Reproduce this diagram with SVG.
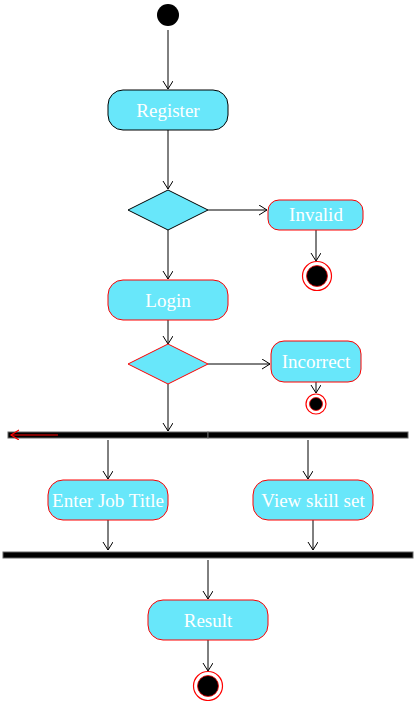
<svg xmlns="http://www.w3.org/2000/svg" width="416" height="701" viewBox="0 0 416 701">
<style>
.act{fill:#68e7fa;stroke:#ff0000;stroke-width:1}
.actb{fill:#68e7fa;stroke:#000;stroke-width:1}
.lbl{font-family:"Liberation Serif","Times New Roman",serif;font-size:19px;fill:#fff;text-anchor:middle}
.conn{stroke:#000;stroke-width:1;fill:none;marker-end:url(#arr)}
.bar{fill:#000;stroke:#666;stroke-width:1}
.fo{fill:#fff;stroke:#ff0000;stroke-width:1.2}
.fi{fill:#000;stroke:#ff0000;stroke-width:0.8}
</style>
<defs>
<marker id="arr" markerUnits="userSpaceOnUse" markerWidth="10" markerHeight="12" refX="8" refY="5" orient="auto">
<path d="M0,0 L8,5 L0,10" fill="none" stroke="#000" stroke-width="1"/>
</marker>
<marker id="arrR" markerUnits="userSpaceOnUse" markerWidth="10" markerHeight="12" refX="8" refY="5" orient="auto">
<path d="M0,0 L8,5 L0,10" fill="none" stroke="#ff0000" stroke-width="1.2"/>
</marker>
</defs>
<g id="connectors">
<line class="conn" x1="168" y1="30" x2="168" y2="89"/>
<line class="conn" x1="168" y1="130" x2="168" y2="189"/>
<line class="conn" x1="208" y1="210" x2="267" y2="210"/>
<line class="conn" x1="316" y1="230" x2="316" y2="261"/>
<line class="conn" x1="168" y1="230" x2="168" y2="279"/>
<line class="conn" x1="168" y1="320" x2="168" y2="344"/>
<line class="conn" x1="208" y1="364" x2="270" y2="364"/>
<line class="conn" x1="316" y1="382" x2="316" y2="393"/>
<line class="conn" x1="168" y1="384" x2="168" y2="431"/>
<line class="conn" x1="108" y1="440" x2="108" y2="479"/>
<line class="conn" x1="308" y1="440" x2="308" y2="479"/>
<line class="conn" x1="108" y1="520" x2="108" y2="550"/>
<line class="conn" x1="313" y1="520" x2="313" y2="550"/>
<line class="conn" x1="208" y1="560" x2="208" y2="599"/>
<line class="conn" x1="208" y1="640" x2="208" y2="671"/>
</g>
<g id="start"><circle cx="168" cy="15" r="11" fill="#000"/></g>
<g id="register"><rect class="actb" x="108" y="90" width="120" height="40" rx="15"/><text class="lbl" x="168" y="117">Register</text></g>
<g id="decision1"><polygon class="actb" points="168,190 208,210 168,230 128,210"/></g>
<g id="invalid"><rect class="act" x="268" y="200" width="95" height="30" rx="11"/><text class="lbl" x="316" y="221">Invalid</text></g>
<g id="end1"><circle class="fo" cx="317" cy="276" r="14.5"/><circle class="fi" cx="317" cy="276" r="10.5"/></g>
<g id="login"><rect class="act" x="108" y="280" width="120" height="40" rx="15"/><text class="lbl" x="168" y="307">Login</text></g>
<g id="decision2"><polygon class="act" points="168,344 208,364 168,384 128,364"/></g>
<g id="incorrect"><rect class="act" x="271" y="341" width="90" height="41" rx="13"/><text class="lbl" x="316" y="368">Incorrect</text></g>
<g id="end2"><circle class="fo" cx="316" cy="404" r="10"/><circle class="fi" cx="316" cy="404" r="6.5"/></g>
<g id="fork">
<rect class="bar" x="8" y="432" width="200" height="6"/>
<rect class="bar" x="208" y="432" width="200" height="6"/>
<line x1="58" y1="435" x2="11" y2="435" stroke="#ff0000" stroke-width="1.2" marker-end="url(#arrR)"/>
</g>
<g id="enterjob"><rect class="act" x="48" y="480" width="120" height="40" rx="15"/><text class="lbl" x="108" y="507">Enter Job Title</text></g>
<g id="viewskill"><rect class="act" x="253" y="480" width="120" height="40" rx="15"/><text class="lbl" x="313" y="507">View skill set</text></g>
<g id="join"><rect class="bar" x="3" y="552" width="410" height="6"/></g>
<g id="result"><rect class="act" x="148" y="600" width="120" height="40" rx="15"/><text class="lbl" x="208" y="627">Result</text></g>
<g id="end3"><circle class="fo" cx="208" cy="686" r="14.5"/><circle class="fi" cx="208" cy="686" r="10.5"/></g>
</svg>
